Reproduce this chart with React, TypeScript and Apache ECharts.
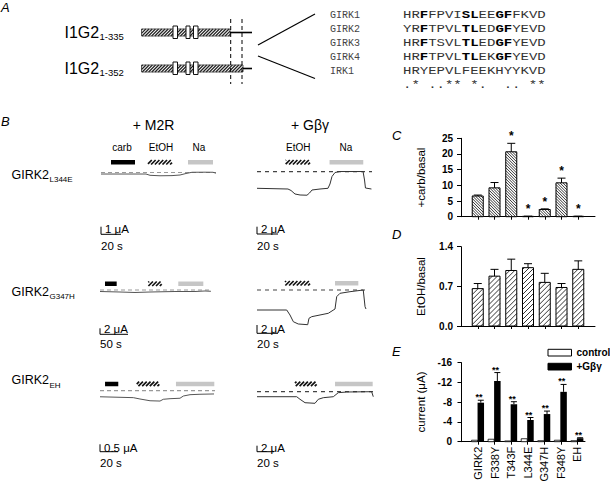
import React, { useEffect, useRef } from "react";
import * as echarts from "echarts";

const SANS = "'Liberation Sans', Arial, Helvetica, sans-serif";
const MONO = "'Liberation Mono', 'Courier New', Courier, monospace";

// ---------------- Panel A data ----------------
const CONSTRUCT_NAMES = ["I1G2", "I1G2"];
const CONSTRUCT_RANGES = ["1-335", "1-352"];
const ALIGN_NAMES = ["GIRK1", "GIRK2", "GIRK3", "GIRK4", "IRK1"];
const ALIGN_SEQS = [
  "HRFFPVISLEEGFFKVD",
  "YRFTPVLTLEDGFYEVD",
  "HRFTSVLTLEDGFYEVD",
  "HRFTPVLTLEKGFYEVD",
  "HRYEPVLFEEKHYYKVD",
];
const ALIGN_BOLD = [[2, 7, 8, 11, 12], [2, 7, 8, 11, 12], [2, 7, 8, 11, 12], [2, 7, 8, 11, 12], []];
const ALIGN_CONSENSUS = ".* ..** *.  .. **";

// ---------------- Panel B data (time s, current µA) ----------------
const ROW_MUTANTS = ["L344E", "G347H", "EH"];
const TRACE_L344E_M2R = [[0, -0.2], [45, -0.2], [49, -0.37], [59, -0.43], [71, -0.41], [79, -0.33], [85, -0.13], [91, 0.03], [104, 0.04], [112, 0.03], [115, -0.09]];
const TRACE_L344E_GBG = [[0, -4.55], [29.5, -4.74], [32.4, -5.15], [36.2, -6.11], [41, -6.38], [47.6, -6.44], [50, -5.84], [52.4, -5.01], [60, -4.74], [67.6, -4.55], [69.5, -3.37], [71.4, -1.32], [74.3, -0.22], [79, 0.05], [94.3, 0.05], [101, 0.05], [102.4, -2.27], [103.3, -4.47], [109, -4.74]];
const TRACE_G347H_M2R = [[0, -0.5], [35.7, -0.67], [62.5, -0.83], [89.3, -0.67], [133.9, -0.5], [169.6, -0.5], [187.5, -0.33], [198, -0.43]];
const TRACE_G347H_GBG = [[0, -4.82], [28.3, -4.82], [31.4, -6.02], [34.6, -7.64], [39.3, -8.19], [48.3, -8.36], [49.5, -6.82], [52.1, -6.43], [67.9, -5.61], [74.3, -4.58], [75.9, -1.61], [79, -0.8], [88.6, -0.41], [101.2, 0], [102.9, -4.02], [103.8, -4.58]];
const TRACE_EH_M2R = [[0, -0.41], [37, -0.47], [44.4, -0.56], [55.6, -0.68], [66.7, -0.7], [70.3, -0.58], [77.8, -0.54], [88.9, -0.51], [92.6, -0.36], [100, -0.27], [111.1, -0.24], [126.7, -0.22]];
const TRACE_EH_GBG = [[0, -1.67], [46.7, -1.67], [50.6, -2.53], [56.5, -3.67], [68.2, -3.87], [72.1, -2.53], [78, -2.0], [89.8, -1.67], [95.6, -0.33], [105.5, -0.1], [134.9, 0], [136.8, -1.67]];

const DRUGS_L344E_M2R = [{ drug: "carb", from: 10, to: 34 }, { drug: "EtOH", from: 47, to: 71 }, { drug: "Na", from: 87, to: 112 }];
const DRUGS_L344E_GBG = [{ drug: "EtOH", from: 27.3, to: 50.5 }, { drug: "Na", from: 69.1, to: 101.2 }];
const DRUGS_G347H_M2R = [{ drug: "carb", from: 8.9, to: 29.8 }, { drug: "EtOH", from: 86.3, to: 110.2 }, { drug: "Na", from: 139.8, to: 184.5 }];
const DRUGS_G347H_GBG = [{ drug: "EtOH", from: 26.7, to: 50.5 }, { drug: "Na", from: 74.3, to: 96.5 }];
const DRUGS_EH_M2R = [{ drug: "carb", from: 5.6, to: 20.3 }, { drug: "EtOH", from: 40.8, to: 65.9 }, { drug: "Na", from: 84.4, to: 127 }];
const DRUGS_EH_GBG = [{ drug: "EtOH", from: 44.7, to: 70.2 }, { drug: "Na", from: 91.8, to: 136.1 }];

const SCALE_L344E_M2R = { sec: 20, ua: 1, uaLabel: "1 μA", sLabel: "20 s" };
const SCALE_L344E_GBG = { sec: 20, ua: 2, uaLabel: "2 μA", sLabel: "20 s" };
const SCALE_G347H_M2R = { sec: 50, ua: 2, uaLabel: "2 μA", sLabel: "50 s" };
const SCALE_G347H_GBG = { sec: 20, ua: 2, uaLabel: "2 μA", sLabel: "20 s" };
const SCALE_EH_M2R = { sec: 20, ua: 0.5, uaLabel: "0.5 μA", sLabel: "20 s" };
const SCALE_EH_GBG = { sec: 20, ua: 2, uaLabel: "2 μA", sLabel: "20 s" };

// ---------------- Panels C, D, E data ----------------
const C_TICKS = [0, 5, 10, 15, 20, 25];
const C_VALUES = [6.6, 9.2, 20.7, 0.1, 2.3, 10.8, 0.1];
const C_ERRORS = [0.3, 1.7, 2.7, 0.05, 0.2, 1.5, 0.05];
const C_SIGNIFICANT = [false, false, true, true, true, true, true];

const D_TICKS = [0, 0.7, 1.4];
const D_VALUES = [0.66, 0.88, 0.98, 1.03, 0.77, 0.68, 1.0];
const D_ERRORS = [0.09, 0.12, 0.2, 0.07, 0.16, 0.07, 0.15];

const E_TICKS = [-16, -12, -8, -4, 0];
const E_CATEGORIES = ["GIRK2", "F338Y", "T343F", "L344E", "G347H", "F348Y", "EH"];
const E_CONTROL = [-0.3, -0.5, -0.15, -0.6, -0.2, -0.3, -0.2];
const E_GBG = [-7.9, -12.3, -7.6, -4.4, -5.6, -10.1, -0.7];
const E_GBG_ERR = [0.5, 1.7, 0.5, 0.5, 0.6, 1.5, 0.1];

// ---------------- helpers ----------------
function hatchLines(x: number, y: number, w: number, h: number, sp: number, dir: string, color: string, lw: number) {
  const out: any[] = [];
  if (w <= 0 || h <= 0) return out;
  if (dir === "/") {
    for (let d = -w + sp / 2; d < h; d += sp) {
      const u1 = Math.max(0, -d), u2 = Math.min(w, h - d);
      if (u2 <= u1) continue;
      out.push({ type: "line", silent: true, shape: { x1: x + u1, y1: y + h - (u1 + d), x2: x + u2, y2: y + h - (u2 + d) }, style: { stroke: color, lineWidth: lw } });
    }
  } else {
    for (let d = sp / 2; d < w + h; d += sp) {
      const u1 = Math.max(0, d - h), u2 = Math.min(w, d);
      if (u2 <= u1) continue;
      out.push({ type: "line", silent: true, shape: { x1: x + u1, y1: y + h - (d - u1), x2: x + u2, y2: y + h - (d - u2) }, style: { stroke: color, lineWidth: lw } });
    }
  }
  return out;
}

function txt(x: number, y: number, text: string, o: any = {}) {
  const style: any = {
    text,
    fill: o.fill || "#000",
    fontSize: o.size || 11,
    fontFamily: o.family || SANS,
    fontWeight: o.weight || "normal",
    fontStyle: o.italic ? "italic" : "normal",
    align: o.align || "left",
    verticalAlign: o.va || "middle",
  };
  if (o.rich) style.rich = o.rich;
  const el: any = { type: "text", x, y, rotation: o.rotation || 0, silent: true, style };
  if (o.scaleX) el.scaleX = o.scaleX;
  return el;
}

function ln(x1: number, y1: number, x2: number, y2: number, o: any = {}) {
  const style: any = { stroke: o.color || "#000", lineWidth: o.width || 1 };
  if (o.dash) style.lineDash = o.dash;
  return { type: "line", silent: true, shape: { x1, y1, x2, y2 }, style };
}

function rc(x: number, y: number, w: number, h: number, fill: string, stroke?: string, lw = 1) {
  return { type: "rect", silent: true, shape: { x, y, width: w, height: h }, style: { fill, stroke: stroke || "none", lineWidth: lw } };
}

// ---------------- Panel A graphics ----------------
function panelA() {
  const g: any[] = [];
  g.push(txt(1, 7, "A", { size: 13, italic: true }));
  const rowsY = [32.5, 68.5];
  const hatchEnds = [230, 243];
  rowsY.forEach((cy, i) => {
    g.push(txt(64.5, cy - 0.5, CONSTRUCT_NAMES[i], { size: 16 }));
    g.push(txt(99.5, cy + 3.5, CONSTRUCT_RANGES[i], { size: 9.5 }));
    const x = 141.5, y = cy - 3.5, w = hatchEnds[i] - x, h = 7;
    g.push(rc(x, y, w, h, "#fff"));
    g.push(...hatchLines(x, y, w, h, 3.2, "/", "#222", 1.2));
    g.push(rc(x, y, w, h, "none", "#333", 0.8));
    g.push(ln(hatchEnds[i], cy, 252, cy, { width: 1.6 }));
    [[173, 4.5], [186, 4], [193.5, 4.5]].forEach(([bx, bw]) => g.push(rc(bx, cy - 6.5, bw, 12.5, "#fff", "#111", 1)));
  });
  g.push(ln(230.7, 19, 230.7, 84, { dash: [4, 3], width: 1 }));
  g.push(ln(242, 19, 242, 84, { dash: [4, 3], width: 1 }));
  g.push(ln(258, 45, 315, 14, { width: 1.2 }));
  g.push(ln(258, 56, 315, 78.5, { width: 1.2 }));

  const SEQ_SIZE = 11.5;
  const SEQ_SCALE = 8.4 / (SEQ_SIZE * 0.6);
  const rich = {
    n: { fontFamily: MONO, fontSize: SEQ_SIZE, fill: "#333" },
    b: { fontFamily: MONO, fontSize: SEQ_SIZE, fill: "#000", fontWeight: "bold" },
  };
  ALIGN_NAMES.forEach((name, i) => {
    const y = 15 + 14 * i;
    g.push(txt(330, y, name, { family: MONO, size: 10, fill: "#444" }));
    const seq = ALIGN_SEQS[i];
    const bold = ALIGN_BOLD[i];
    let s = "";
    let cur = "";
    let curB = false;
    for (let k = 0; k < seq.length; k++) {
      const b = bold.includes(k);
      if (k > 0 && b !== curB) {
        s += `{${curB ? "b" : "n"}|${cur}}`;
        cur = "";
      }
      curB = b;
      cur += seq[k];
    }
    s += `{${curB ? "b" : "n"}|${cur}}`;
    g.push(txt(403, y, s, { rich, scaleX: SEQ_SCALE }));
  });
  g.push(txt(403, 85, ALIGN_CONSENSUS, { family: MONO, size: SEQ_SIZE, fill: "#333", scaleX: SEQ_SCALE }));
  return g;
}

// ---------------- Panel B texts ----------------
function panelBTexts() {
  const g: any[] = [];
  g.push(txt(1, 121.5, "B", { size: 13, italic: true }));
  g.push(txt(153.5, 125, "+ M2R", { size: 14, align: "center" }));
  g.push(txt(310, 125, "+ Gβγ", { size: 14, align: "center" }));
  g.push(txt(122, 147.5, "carb", { size: 10, align: "center" }));
  g.push(txt(161, 147.5, "EtOH", { size: 10, align: "center" }));
  g.push(txt(199, 147.5, "Na", { size: 10, align: "center" }));
  g.push(txt(298.3, 147.5, "EtOH", { size: 10, align: "center" }));
  g.push(txt(346, 147.5, "Na", { size: 10, align: "center" }));
  const ys = [174.5, 291.7, 380];
  ROW_MUTANTS.forEach((m, i) => {
    g.push(txt(11.5, ys[i], "GIRK2", { size: 12.5 }));
    g.push(txt(49.5, ys[i] + 5, m, { size: 8 }));
  });
  return g;
}

// ---------------- Panels C/D/E texts ----------------
function rightTexts() {
  const g: any[] = [];
  g.push(txt(392, 135, "C", { size: 13, italic: true }));
  g.push(txt(392, 234, "D", { size: 13, italic: true }));
  g.push(txt(392, 351.5, "E", { size: 13, italic: true }));
  g.push(txt(420.5, 177.5, "+carb/basal", { size: 11.5, align: "center", rotation: Math.PI / 2 }));
  g.push(txt(420.5, 286.5, "EtOH/basal", { size: 11.5, align: "center", rotation: Math.PI / 2 }));
  g.push(txt(420.5, 402, "current (μA)", { size: 11.5, align: "center", rotation: Math.PI / 2 }));
  g.push(rc(548, 349.3, 23.5, 6.7, "#fff", "#000", 1));
  g.push(rc(548, 363.3, 23.5, 6.7, "#000", "#000", 1));
  g.push(txt(576.5, 352.7, "control", { size: 10, weight: "bold" }));
  g.push(txt(576.5, 366.7, "+Gβγ", { size: 10, weight: "bold" }));
  return g;
}

// ---------------- series builders ----------------
function hatchedBarSeries(idx: number, values: number[], errors: number[], sig: boolean[] | null, dir: string, sp: number) {
  return {
    type: "custom",
    xAxisIndex: idx,
    yAxisIndex: idx,
    silent: true,
    clip: false,
    data: values.map((v, i) => [i + 1, v]),
    renderItem: (params: any, api: any) => {
      const i = params.dataIndex;
      const k = api.value(0), v = api.value(1);
      const p0 = api.coord([k, 0]);
      const cx = p0[0], y0 = p0[1];
      const yT = api.coord([k, v])[1];
      const yE = api.coord([k, v + errors[i]])[1];
      const bw = 11;
      const x = cx - bw / 2;
      const h = Math.max(0.4, y0 - yT);
      const top = y0 - h;
      const children: any[] = [];
      children.push(rc(x, top, bw, h, "#fff"));
      children.push(...hatchLines(x, top, bw, h, sp, dir, "#000", 0.8));
      children.push(rc(x, top, bw, h, "none", "#000", 1));
      children.push(ln(cx, top, cx, yE, { width: 1 }));
      children.push(ln(cx - 4, yE, cx + 4, yE, { width: 1 }));
      if (sig && sig[i]) children.push(txt(cx, yE - 7, "*", { size: 12, align: "center", weight: "bold" }));
      return { type: "group", children };
    },
  };
}

function eSeries() {
  return {
    type: "custom",
    xAxisIndex: 2,
    yAxisIndex: 2,
    silent: true,
    clip: false,
    data: E_CATEGORIES.map((_, i) => [i + 1, E_GBG[i]]),
    renderItem: (params: any, api: any) => {
      const i = params.dataIndex;
      const k = api.value(0);
      const p0 = api.coord([k, 0]);
      const cx = p0[0], y0 = p0[1];
      const cTop = api.coord([k, E_CONTROL[i]])[1];
      const gTop = api.coord([k, E_GBG[i]])[1];
      const gErr = api.coord([k, E_GBG[i] - E_GBG_ERR[i]])[1];
      const bx = cx - 0.5, bw = 6.5;
      const bc = bx + bw / 2;
      const children: any[] = [];
      children.push(rc(cx - 6.5, cTop, 6, Math.max(0.5, y0 - cTop), "#fff", "#000", 0.8));
      children.push(ln(bc, gTop, bc, gErr, { width: 1 }));
      children.push(ln(bc - 3, gErr, bc + 3, gErr, { width: 1 }));
      children.push(rc(bx, gTop, bw, y0 - gTop, "#000"));
      children.push(txt(cx + 1, gErr - 3, "**", { size: 9, align: "center", weight: "bold" }));
      return { type: "group", children };
    },
  };
}

const CELLS: any[] = [
  { trace: TRACE_L344E_M2R, drugs: DRUGS_L344E_M2R, scale: SCALE_L344E_M2R, x0: 101, w: 115, zeroY: 172.5, pps: 1.0, ppu: 7.6, barTop: 160, scaleBottom: 234.3, uaY: 229, sY: 245.5, dash: "#999", dashPat: [4, 3], traceColor: "#555" },
  { trace: TRACE_L344E_GBG, drugs: DRUGS_L344E_GBG, scale: SCALE_L344E_GBG, x0: 257, w: 115, zeroY: 171.7, pps: 1.05, ppu: 3.65, barTop: 160, scaleBottom: 234, uaY: 229, sY: 245.5, dash: "#444", dashPat: [4, 4], traceColor: "#333" },
  { trace: TRACE_G347H_M2R, drugs: DRUGS_G347H_M2R, scale: SCALE_G347H_M2R, x0: 100, w: 111, zeroY: 290, pps: 0.56, ppu: 3, barTop: 281.5, scaleBottom: 334.3, uaY: 329, sY: 344, dash: "#999", dashPat: [4, 3], traceColor: "#555" },
  { trace: TRACE_G347H_GBG, drugs: DRUGS_G347H_GBG, scale: SCALE_G347H_GBG, x0: 257, w: 109, zeroY: 290, pps: 1.05, ppu: 4.15, barTop: 281, scaleBottom: 333.3, uaY: 329, sY: 344, dash: "#444", dashPat: [4, 4], traceColor: "#333" },
  { trace: TRACE_EH_M2R, drugs: DRUGS_EH_M2R, scale: SCALE_EH_M2R, x0: 100, w: 115, zeroY: 390.7, pps: 0.9, ppu: 14.8, barTop: 381.7, scaleBottom: 451.7, uaY: 447.5, sY: 462.5, dash: "#999", dashPat: [4, 3], traceColor: "#555" },
  { trace: TRACE_EH_GBG, drugs: DRUGS_EH_GBG, scale: SCALE_EH_GBG, x0: 257, w: 116.5, zeroY: 391.7, pps: 0.85, ppu: 3, barTop: 381.7, scaleBottom: 451.7, uaY: 447.5, sY: 462.5, dash: "#444", dashPat: [4, 4], traceColor: "#333" },
];

function buildOption() {
  const axisLine = { show: true, lineStyle: { color: "#000", width: 1 } };
  const yLabel = { fontSize: 10, fontWeight: "bold", color: "#000", fontFamily: SANS, margin: 8 };
  const grids: any[] = [
    { left: 461, top: 138.3, width: 134, height: 78.4 },
    { left: 461, top: 246.7, width: 134, height: 79.3 },
    { left: 460, top: 362.7, width: 125, height: 79 },
  ];
  const xAxes: any[] = [
    { gridIndex: 0, type: "value", min: 0, max: 8, axisLine, axisTick: { show: true, customValues: [1, 2, 3, 4, 5, 6, 7], length: 3, lineStyle: { color: "#000" } }, axisLabel: { show: false }, splitLine: { show: false } },
    { gridIndex: 1, type: "value", min: 0, max: 8, axisLine, axisTick: { show: true, customValues: [1, 2, 3, 4, 5, 6, 7], length: 3, lineStyle: { color: "#000" } }, axisLabel: { show: false }, splitLine: { show: false } },
    {
      gridIndex: 2, type: "value", min: -0.09, max: 7.46, axisLine,
      axisTick: { show: true, customValues: [1, 2, 3, 4, 5, 6, 7], length: 3, lineStyle: { color: "#000" } },
      axisLabel: { show: true, customValues: [1, 2, 3, 4, 5, 6, 7], rotate: 90, fontSize: 11, color: "#000", fontFamily: SANS, margin: 5, formatter: (v: number) => E_CATEGORIES[Math.round(v) - 1] ?? "" },
      splitLine: { show: false },
    },
  ];
  const yAxes: any[] = [
    { gridIndex: 0, type: "value", min: C_TICKS[0], max: C_TICKS[C_TICKS.length - 1], interval: C_TICKS[1] - C_TICKS[0], axisLine, axisTick: { show: true, length: 4, lineStyle: { color: "#000" } }, axisLabel: yLabel, splitLine: { show: false } },
    { gridIndex: 1, type: "value", min: D_TICKS[0], max: D_TICKS[D_TICKS.length - 1], interval: D_TICKS[1] - D_TICKS[0], axisLine, axisTick: { show: true, length: 4, lineStyle: { color: "#000" } }, axisLabel: { ...yLabel, formatter: (v: number) => v.toFixed(1) }, splitLine: { show: false } },
    { gridIndex: 2, type: "value", inverse: true, min: E_TICKS[0], max: E_TICKS[E_TICKS.length - 1], interval: E_TICKS[1] - E_TICKS[0], axisLine, axisTick: { show: true, length: 4, lineStyle: { color: "#000" } }, axisLabel: yLabel, splitLine: { show: false } },
  ];
  const series: any[] = [
    hatchedBarSeries(0, C_VALUES, C_ERRORS, C_SIGNIFICANT, "\\", 2.8),
    hatchedBarSeries(1, D_VALUES, D_ERRORS, null, "/", 5),
    eSeries(),
  ];

  CELLS.forEach((c, ci) => {
    const gi = 3 + ci;
    const T = c.w / c.pps;
    const top = c.zeroY - 30, height = 75;
    grids.push({ left: c.x0, top, width: c.w, height });
    xAxes.push({ gridIndex: gi, type: "value", min: 0, max: T, show: false });
    yAxes.push({ gridIndex: gi, type: "value", min: -(height - 30) / c.ppu, max: 30 / c.ppu, show: false });
    series.push({
      type: "line", xAxisIndex: gi, yAxisIndex: gi, silent: true, symbol: "none", showSymbol: false,
      data: [[0, 0], [T, 0]], lineStyle: { color: c.dash, width: 1.2, type: c.dashPat },
    });
    series.push({
      type: "line", xAxisIndex: gi, yAxisIndex: gi, silent: true, symbol: "none", showSymbol: false,
      data: c.trace, lineStyle: { color: c.traceColor, width: 1 },
    });
    series.push({
      type: "custom", xAxisIndex: gi, yAxisIndex: gi, silent: true, clip: false,
      data: c.drugs.map((d: any) => [d.from, d.to]),
      renderItem: (params: any, api: any) => {
        const kind = c.drugs[params.dataIndex].drug;
        const x1 = api.coord([api.value(0), 0])[0];
        const x2 = api.coord([api.value(1), 0])[0];
        const y = c.barTop, h = 4.5, w = x2 - x1;
        if (kind === "carb") return rc(x1, y, w, h, "#000");
        if (kind === "Na") return rc(x1, y, w, h, "#c6c6c6");
        return { type: "group", children: hatchLines(x1, y, w, h, 3.8, "/", "#111", 1.7) };
      },
    });
    series.push({
      type: "custom", xAxisIndex: gi, yAxisIndex: gi, silent: true, clip: false,
      data: [[0, 0]],
      renderItem: (params: any, api: any) => {
        const xo = api.coord([0, 0])[0];
        const yb = c.scaleBottom;
        const hl = api.size([c.scale.sec, 0])[0];
        const vl = api.size([0, c.scale.ua])[1];
        return {
          type: "group",
          children: [
            ln(xo, yb - vl, xo, yb, { width: 1 }),
            ln(xo, yb, xo + hl, yb, { width: 1 }),
            txt(xo + 4, c.uaY, c.scale.uaLabel, { size: 11.5 }),
            txt(xo, c.sY, c.scale.sLabel, { size: 11.5 }),
          ],
        };
      },
    });
  });

  return {
    animation: false,
    backgroundColor: "#fff",
    tooltip: { show: false },
    grid: grids,
    xAxis: xAxes,
    yAxis: yAxes,
    series,
    graphic: [...panelA(), ...panelBTexts(), ...rightTexts()],
  };
}

export default function App() {
  const ref = useRef<HTMLDivElement>(null);
  useEffect(() => {
    document.body.style.margin = "0";
    const chart = echarts.init(ref.current as HTMLDivElement, null, { renderer: "svg" });
    chart.setOption(buildOption() as any);
    return () => chart.dispose();
  }, []);
  return <div ref={ref} style={{ width: 610, height: 488, background: "#fff" }} />;
}
